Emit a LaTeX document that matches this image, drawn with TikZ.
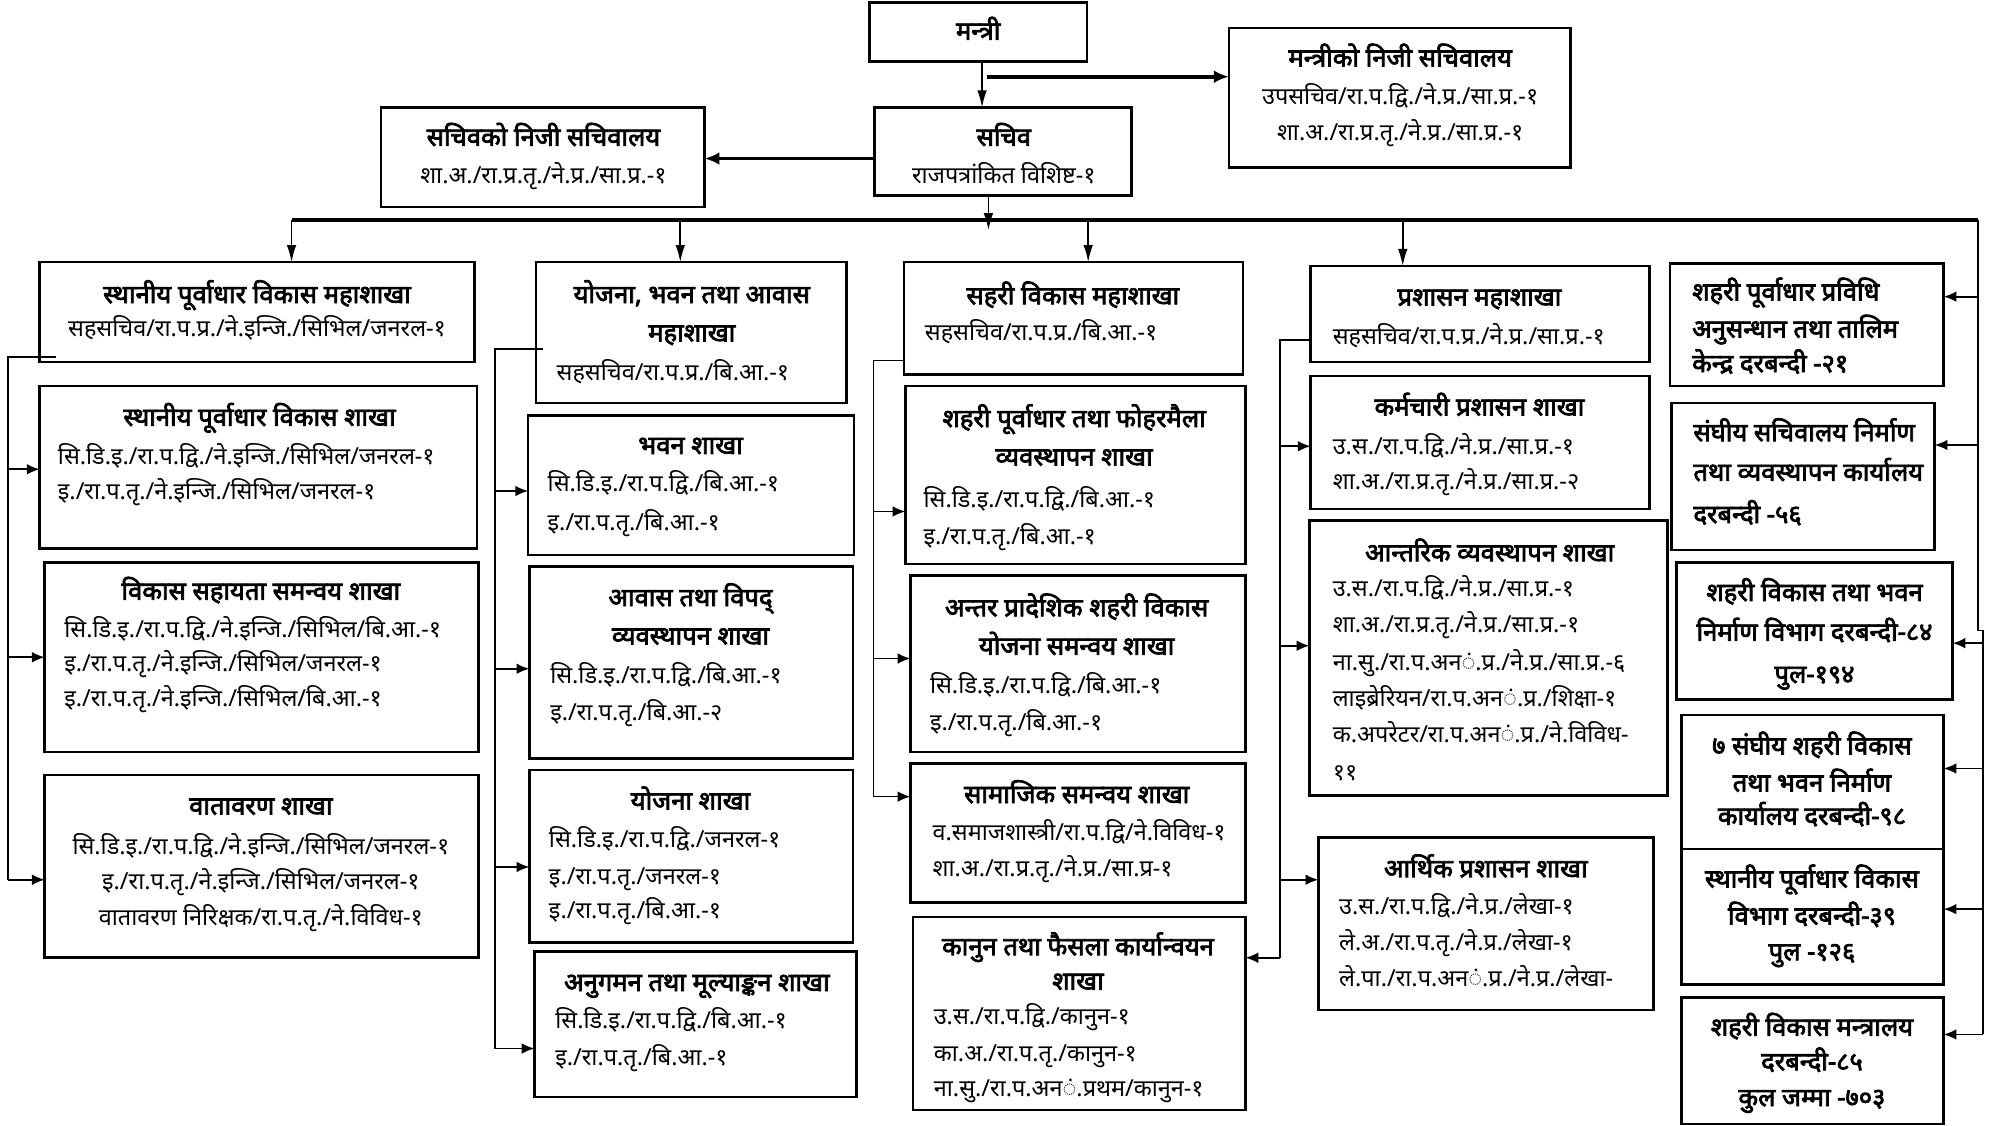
\documentclass[tikz,border=0pt]{standalone}
\usepackage{fontspec}
\setmainfont{Noto Sans}[Script=Devanagari]
\newfontfamily\devbold{Noto Sans}[Script=Devanagari, FakeBold=3]
\usetikzlibrary{arrows.meta}
\tikzset{
  box/.style={draw, line width=1.2pt, inner sep=0pt, outer sep=0pt, rectangle},
  ttl/.style={font=\devbold\fontsize{12}{14}\selectfont, inner sep=0pt, text height=9.6pt, text depth=2.4pt},
  bdy/.style={font=\fontsize{11}{13}\selectfont, inner sep=0pt, text height=8.8pt, text depth=2.2pt},
  conn/.style={line width=0.8pt},
  arr/.style={line width=0.8pt, -{Latex[length=6pt,width=5pt]}},
  drop/.style={line width=0.8pt, -{Latex[length=8pt,width=4.5pt]}},
  tarr/.style={line width=1.8pt, -{Latex[length=7pt,width=6pt]}},
}
\newcommand\Bx[5]{\node[box, anchor=north west, minimum width={(#4-#2)*0.6pt}, minimum height={(#5-#3)*0.6pt}] (#1) at (#2,#3) {};}
\newcommand\Tcn[4]{\node[ttl] (#1) at (#2,#3) {#4};}
\newcommand\Twn[4]{\node[ttl,anchor=west] (#1) at (#2,#3) {#4};}
\newcommand\Bcn[4]{\node[bdy] (#1) at (#2,#3) {#4};}
\newcommand\Bwn[4]{\node[bdy,anchor=west] (#1) at (#2,#3) {#4};}
\begin{document}
\begin{tikzpicture}[x=0.6pt,y=-0.6pt]
\useasboundingbox[fill=white] (0,0) rectangle (1568,880);
% ---------- top ----------
\Bx{mantri}{680}{2}{850}{48}
\Tcn{mantrit}{765}{25}{मन्त्री}
\Bx{mk}{961}{22}{1228}{131}
\Tcn{mkt}{1095}{46}{मन्त्रीको निजी सचिवालय}
\Bcn{mkb1}{1095}{76}{उपसचिव/रा.प.द्वि./ने.प्र./सा.प्र.-१}
\Bcn{mkb2}{1095}{104}{शा.अ./रा.प्र.तृ./ने.प्र./सा.प्र.-१}
\Bx{sk}{298}{84}{551}{162}
\Tcn{skt}{425}{108}{सचिवको निजी सचिवालय}
\Bcn{skb1}{425}{138}{शा.अ./रा.प्र.तृ./ने.प्र./सा.प्र.-१}
\Bx{sachiv}{684}{84}{885}{153}
\Tcn{sachivt}{785}{108}{सचिव}
\Bcn{sachivb}{785}{138}{राजपत्रांकित विशिष्ट-१}
% ---------- column 1 ----------
\Bx{c1h}{31}{205}{371}{283}
\Tcn{c1ht}{201}{231}{स्थानीय पूर्वाधार विकास महाशाखा}
\Bcn{c1hb}{201}{258}{सहसचिव/रा.प.प्र./ने.इन्जि./सिभिल/जनरल-१}
\Bx{c1b2}{31}{302}{373}{429}
\Tcn{c1b2t}{203}{327}{स्थानीय पूर्वाधार विकास शाखा}
\Bwn{c1b2a}{45}{358}{सि.डि.इ./रा.प.द्वि./ने.इन्जि./सिभिल/जनरल-१}
\Bwn{c1b2b}{45}{385}{इ./रा.प.तृ./ने.इन्जि./सिभिल/जनरल-१}
\Bx{c1b3}{35}{440}{374}{588}
\Tcn{c1b3t}{204}{463}{विकास सहायता समन्वय शाखा}
\Bwn{c1b3a}{50}{493}{सि.डि.इ./रा.प.द्वि./ने.इन्जि./सिभिल/बि.आ.-१}
\Bwn{c1b3b}{50}{520}{इ./रा.प.तृ./ने.इन्जि./सिभिल/जनरल-१}
\Bwn{c1b3c}{50}{547}{इ./रा.प.तृ./ने.इन्जि./सिभिल/बि.आ.-१}
\Bx{c1b4}{35}{606}{374}{749}
\Tcn{c1b4t}{204}{631}{वातावरण शाखा}
\Bcn{c1b4a}{204}{663}{सि.डि.इ./रा.प.द्वि./ने.इन्जि./सिभिल/जनरल-१}
\Bcn{c1b4b}{204}{690}{इ./रा.प.तृ./ने.इन्जि./सिभिल/जनरल-१}
\Bcn{c1b4c}{204}{718}{वातावरण निरिक्षक/रा.प.तृ./ने.विविध-१}
% ---------- column 2 ----------
\Bx{c2h}{419}{205}{662}{315}
\Tcn{c2ht1}{541}{231}{योजना, भवन तथा आवास}
\Tcn{c2ht2}{541}{261}{महाशाखा}
\Bwn{c2hb}{435}{292}{सहसचिव/रा.प.प्र./बि.आ.-१}
\Bx{c2b2}{413}{325}{668}{434}
\Tcn{c2b2t}{540}{349}{भवन शाखा}
\Bwn{c2b2a}{428}{379}{सि.डि.इ./रा.प.द्वि./बि.आ.-१}
\Bwn{c2b2b}{428}{409}{इ./रा.प.तृ./बि.आ.-१}
\Bx{c2b3}{414}{443}{667}{593}
\Tcn{c2b3t1}{540}{468}{आवास तथा विपद्}
\Tcn{c2b3t2}{540}{498}{व्यवस्थापन शाखा}
\Bwn{c2b3a}{430}{529}{सि.डि.इ./रा.प.द्वि./बि.आ.-१}
\Bwn{c2b3b}{430}{558}{इ./रा.प.तृ./बि.आ.-२}
\Bx{c2b4}{414}{602}{667}{737}
\Tcn{c2b4t}{540}{627}{योजना शाखा}
\Bwn{c2b4a}{429}{657}{सि.डि.इ./रा.प.द्वि./जनरल-१}
\Bwn{c2b4b}{429}{686}{इ./रा.प.तृ./जनरल-१}
\Bwn{c2b4c}{429}{713}{इ./रा.प.तृ./बि.आ.-१}
\Bx{c2b5}{418}{744}{670}{858}
\Tcn{c2b5t}{545}{769}{अनुगमन तथा मूल्याङ्कन शाखा}
\Bwn{c2b5a}{434}{799}{सि.डि.इ./रा.प.द्वि./बि.आ.-१}
\Bwn{c2b5b}{434}{828}{इ./रा.प.तृ./बि.आ.-१}
% ---------- column 3 ----------
\Bx{c3h}{707}{205}{972}{293}
\Tcn{c3ht}{839}{232}{सहरी विकास महाशाखा}
\Bwn{c3hb}{723}{261}{सहसचिव/रा.प.प्र./बि.आ.-१}
\Bx{c3b2}{708}{302}{974}{441}
\Tcn{c3b2t1}{840}{328}{शहरी पूर्वाधार तथा फोहरमैला}
\Tcn{c3b2t2}{840}{358}{व्यवस्थापन शाखा}
\Bwn{c3b2a}{722}{391}{सि.डि.इ./रा.प.द्वि./बि.आ.-१}
\Bwn{c3b2b}{722}{420}{इ./रा.प.तृ./बि.आ.-१}
\Bx{c3b3}{712}{450}{974}{588}
\Tcn{c3b3t1}{842}{476}{अन्तर प्रादेशिक शहरी विकास}
\Tcn{c3b3t2}{842}{506}{योजना समन्वय शाखा}
\Bwn{c3b3a}{727}{537}{सि.डि.इ./रा.प.द्वि./बि.आ.-१}
\Bwn{c3b3b}{727}{566}{इ./रा.प.तृ./बि.आ.-१}
\Bx{c3b4}{712}{597}{974}{706}
\Tcn{c3b4t}{842}{622}{सामाजिक समन्वय शाखा}
\Bwn{c3b4a}{729}{652}{व.समाजशास्त्री/रा.प.द्वि/ने.विविध-१}
\Bwn{c3b4b}{729}{680}{शा.अ./रा.प्र.तृ./ने.प्र./सा.प्र-१}
\Bx{c3b5}{714}{717}{974}{868}
\Tcn{c3b5t1}{843}{741}{कानुन तथा फैसला कार्यान्वयन}
\Tcn{c3b5t2}{843}{768}{शाखा}
\Bwn{c3b5a}{730}{796}{उ.स./रा.प.द्वि./कानुन-१}
\Bwn{c3b5b}{730}{825}{का.अ./रा.प.तृ./कानुन-१}
\Bwn{c3b5c}{730}{852}{ना.सु./रा.प.अन◌ं.प्रथम/कानुन-१}
% ---------- column 4 ----------
\Bx{c4h}{1025}{208}{1290}{283}
\Tcn{c4ht}{1157}{233}{प्रशासन महाशाखा}
\Bwn{c4hb}{1042}{264}{सहसचिव/रा.प.प्र./ने.प्र./सा.प्र.-१}
\Bx{c4b2}{1025}{294}{1290}{398}
\Tcn{c4b2t}{1157}{319}{कर्मचारी प्रशासन शाखा}
\Bwn{c4b2a}{1042}{350}{उ.स./रा.प.द्वि./ने.प्र./सा.प्र.-१}
\Bwn{c4b2b}{1042}{377}{शा.अ./रा.प्र.तृ./ने.प्र./सा.प्र.-२}
\Bx{c4b3}{1024}{407}{1304}{622}
\Tcn{c4b3t}{1165}{433}{आन्तरिक व्यवस्थापन शाखा}
\Bwn{c4b3a}{1042}{461}{उ.स./रा.प.द्वि./ने.प्र./सा.प्र.-१}
\Bwn{c4b3b}{1042}{489}{शा.अ./रा.प्र.तृ./ने.प्र./सा.प्र.-१}
\Bwn{c4b3c}{1042}{519}{ना.सु./रा.प.अन◌ं.प्र./ने.प्र./सा.प्र.-६}
\Bwn{c4b3d}{1042}{547}{लाइब्रेरियन/रा.प.अन◌ं.प्र./शिक्षा-१}
\Bwn{c4b3e}{1042}{575}{क.अपरेटर/रा.प.अन◌ं.प्र./ने.विविध-}
\Bwn{c4b3f}{1042}{605}{११}
\Bx{c4b4}{1031}{655}{1293}{790}
\Tcn{c4b4t}{1162}{680}{आर्थिक प्रशासन शाखा}
\Bwn{c4b4a}{1047}{710}{उ.स./रा.प.द्वि./ने.प्र./लेखा-१}
\Bwn{c4b4b}{1047}{738}{ले.अ./रा.प.तृ./ने.प्र./लेखा-१}
\Bwn{c4b4c}{1047}{766}{ले.पा./रा.प.अन◌ं.प्र./ने.प्र./लेखा-}
% ---------- column 5 ----------
\Bx{c5b1}{1306}{206}{1520}{302}
\Twn{c5b1a}{1323}{229}{शहरी पूर्वाधार प्रविधि}
\Twn{c5b1b}{1323}{258}{अनुसन्धान तथा तालिम}
\Twn{c5b1c}{1323}{285}{केन्द्र दरबन्दी -२१}
\Bx{c5b2}{1307}{315}{1513}{430}
\Twn{c5b2a}{1324}{339}{संघीय सचिवालय निर्माण}
\Twn{c5b2b}{1324}{370}{तथा व्यवस्थापन कार्यालय}
\Twn{c5b2c}{1324}{403}{दरबन्दी -५६}
\Bx{c5b3}{1311}{440}{1527}{547}
\Tcn{c5b3a}{1419}{464}{शहरी विकास तथा भवन}
\Tcn{c5b3b}{1419}{495}{निर्माण विभाग दरबन्दी-८४}
\Tcn{c5b3c}{1419}{528}{पुल-१९४}
\Bx{c5b4}{1315}{559}{1520}{664}
\Tcn{c5b4a}{1417}{584}{७ संघीय शहरी विकास}
\Tcn{c5b4b}{1417}{613}{तथा भवन निर्माण}
\Tcn{c5b4c}{1417}{639}{कार्यालय दरबन्दी-९८}
\Bx{c5b5}{1315}{664}{1520}{770}
\Tcn{c5b5a}{1417}{688}{स्थानीय पूर्वाधार विकास}
\Tcn{c5b5b}{1417}{717}{विभाग दरबन्दी-३९}
\Tcn{c5b5c}{1417}{745}{पुल -१२६}
\Bx{c5b6}{1315}{780}{1520}{879}
\Tcn{c5b6a}{1417}{804}{शहरी विकास मन्त्रालय}
\Tcn{c5b6b}{1417}{831}{दरबन्दी-८५}
\Tcn{c5b6c}{1417}{859}{कुल जम्मा -७०३}
% ---------- top connectors ----------
\coordinate (mv) at (768,48);
\coordinate (mh) at (772,60);
\coordinate (sv) at (773,153);
\coordinate (busL) at (228,172);
\coordinate (busR) at (1547,172);
\coordinate (busM) at (773,180);
\draw[drop] (mantri.south -| mv) -- (sachiv.north -| mv);
\draw[tarr] (mh) -- (mk.west |- mh);
\draw[tarr] (sachiv.west |- 0,124) -- (sk.east |- 0,124);
\draw[line width=1.6pt] (busL) -- (busR);
\draw[drop] (sachiv.south -| sv) -- (busM);
\coordinate (d1) at (228,172);
\coordinate (d2) at (532,172);
\coordinate (d3) at (851,172);
\coordinate (d4) at (1097,172);
\draw[drop] (d1) -- (c1h.north -| d1);
\draw[drop] (d2) -- (c2h.north -| d2);
\draw[drop] (d3) -- (c3h.north -| d3);
\draw[drop] (d4) -- (c4h.north -| d4);
% ---------- column 1 feeder ----------
\coordinate (k1a) at (6.5,279);
\coordinate (k1b) at (6.5,688);
\draw[conn] (44,279) -- (k1a) -- (k1b);
\draw[arr] (k1a |- 0,367) -- (c1b2.west |- 0,367);
\draw[arr] (k1a |- 0,514) -- (c1b3.west |- 0,514);
\draw[arr] (k1b) -- (c1b4.west |- k1b);
% ---------- column 2 feeder ----------
\coordinate (k2a) at (387,273);
\coordinate (k2b) at (387,820);
\draw[conn] (425,273) -- (k2a) -- (k2b);
\draw[arr] (k2a |- 0,384) -- (c2b2.west |- 0,384);
\draw[arr] (k2a |- 0,523) -- (c2b3.west |- 0,523);
\draw[arr] (k2a |- 0,678) -- (c2b4.west |- 0,678);
\draw[arr] (k2b) -- (c2b5.west |- k2b);
% ---------- column 3 feeder ----------
\coordinate (k3a) at (683,282);
\coordinate (k3b) at (683,623);
\draw[conn] (c3h.west |- k3a) -- (k3a) -- (k3b);
\draw[arr] (k3a |- 0,400) -- (c3b2.west |- 0,400);
\draw[arr] (k3a |- 0,515) -- (c3b3.west |- 0,515);
\draw[arr] (k3b) -- (c3b4.west |- k3b);
% ---------- column 4 feeder ----------
\coordinate (k4a) at (1001,266);
\coordinate (k4b) at (1001,749);
\draw[conn] (c4h.west |- k4a) -- (k4a) -- (k4b);
\draw[arr] (k4a |- 0,349) -- (c4b2.west |- 0,349);
\draw[arr] (k4a |- 0,505) -- (c4b3.west |- 0,505);
\draw[arr] (k4a |- 0,688) -- (c4b4.west |- 0,688);
\draw[arr] (k4b) -- (c3b5.east |- k4b);
% ---------- column 5 feeder ----------
\coordinate (k5a) at (1547,493);
\coordinate (k5b) at (1551,493);
\coordinate (k5c) at (1551,809);
\draw[conn] (busR) -- (k5a) -- (k5b) -- (k5c);
\draw[arr] (busR |- 0,232) -- (c5b1.east |- 0,232);
\draw[arr] (busR |- 0,348) -- (c5b2.east |- 0,348);
\draw[arr] (k5b |- 0,503) -- (c5b3.east |- 0,503);
\draw[arr] (k5b |- 0,601) -- (c5b4.east |- 0,601);
\draw[arr] (k5b |- 0,711) -- (c5b5.east |- 0,711);
\draw[arr] (k5c) -- (c5b6.east |- k5c);
\end{tikzpicture}
\end{document}
